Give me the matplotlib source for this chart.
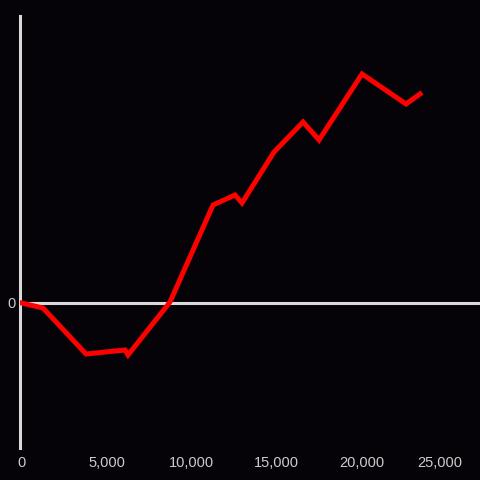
import matplotlib.pyplot as plt
import matplotlib.transforms as mtransforms
from matplotlib.ticker import FuncFormatter

# values
x = [0, 1265, 3794, 6088, 6265, 8735, 11265, 12559, 12970, 14853,
     16559, 17500, 20029, 22618, 23441]
y = [0, -5, -51, -47, -52, 1, 98, 108, 100, 151, 181, 163, 229, 199, 209]
xticks = [0, 5000, 10000, 15000, 20000, 25000]

bg = "#050307"
fg = "#d9d9d9"

plt.rcParams["font.family"] = ["Liberation Sans", "DejaVu Sans"]

fig = plt.figure(figsize=(4.8, 4.8), dpi=100, facecolor=bg)
ax = fig.add_axes([20 / 480, 32 / 480, 460 / 480, 432 / 480], facecolor=bg)

ax.plot(x, y, color="#ff0000", lw=3.6, solid_joinstyle="miter", zorder=3)
ax.axhline(0, color=fg, lw=2.2, zorder=2)

ax.set_xlim(-90, 26970)
ax.set_ylim(-145, 287)

for s in ["top", "right", "bottom"]:
    ax.spines[s].set_visible(False)
ax.spines["left"].set_color(fg)
ax.spines["left"].set_linewidth(2.2)

ax.set_xticks(xticks)
ax.xaxis.set_major_formatter(FuncFormatter(lambda v, p: f"{int(v):,}"))
ax.set_yticks([0])
ax.tick_params(axis="both", length=0, colors="#cccccc", labelsize=10.5)
ax.tick_params(axis="x", pad=6)
ax.tick_params(axis="y", pad=3)

# the last label sits a bit inward, as in the reference
fig.canvas.draw()
last = ax.get_xticklabels()[-1]
last.set_transform(last.get_transform() +
                   mtransforms.ScaledTranslation(-7 / 100, 0, fig.dpi_scale_trans))

fig.savefig("out.png", dpi=100, facecolor=bg)
